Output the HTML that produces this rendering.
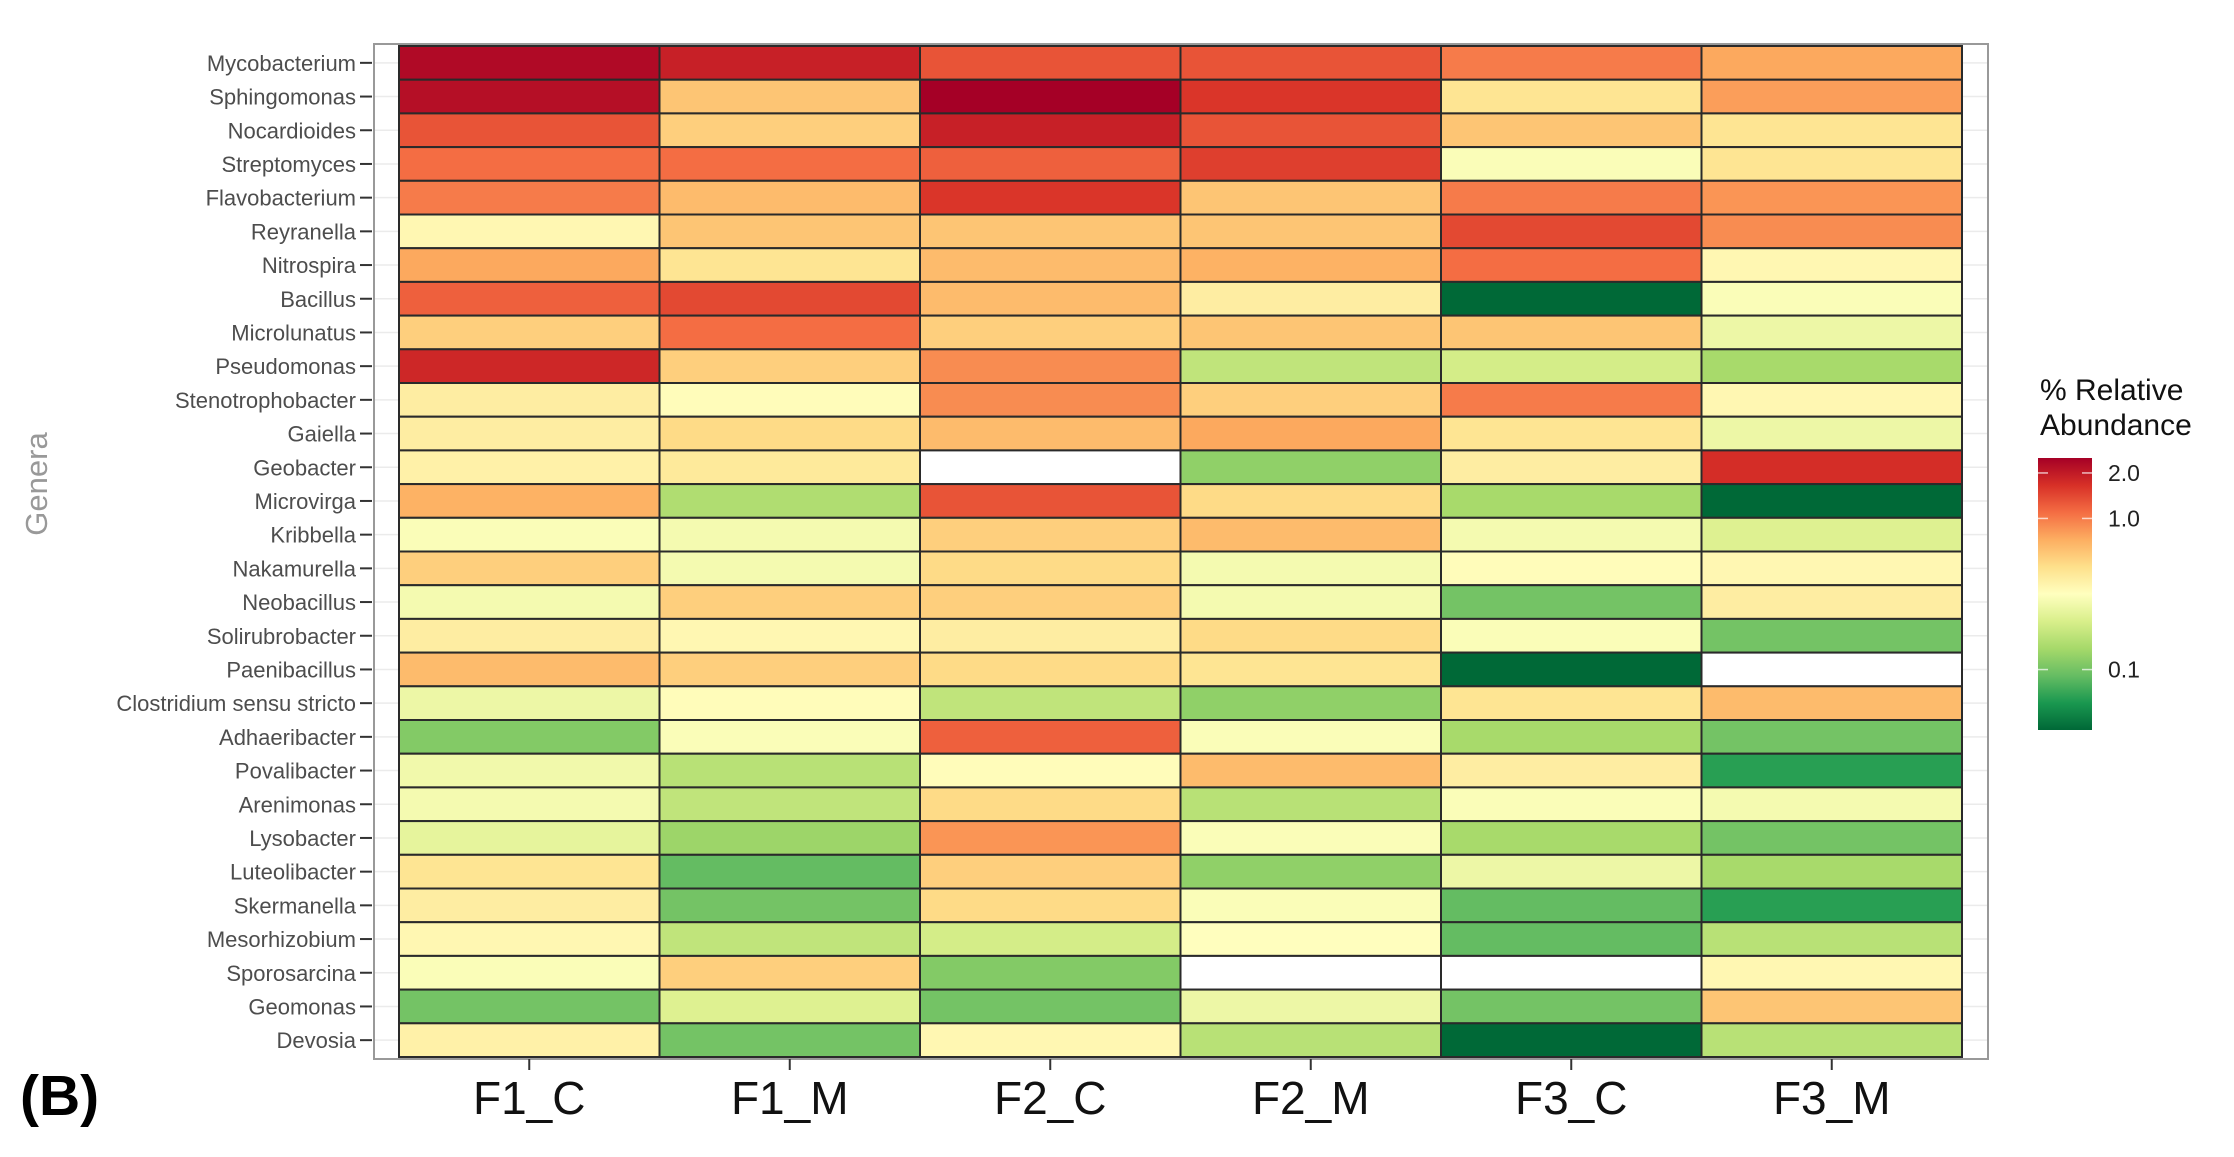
<!DOCTYPE html>
<html><head><meta charset="utf-8"><style>
html,body{margin:0;padding:0;background:#fff;}
svg{display:block;font-family:"Liberation Sans",sans-serif;}
</style></head><body>
<svg id="chart" width="2234" height="1157" viewBox="0 0 2234 1157" xmlns="http://www.w3.org/2000/svg">
<rect x="374" y="44" width="1614" height="1015" fill="#fff" stroke="#999" stroke-width="2"/>
<g id="grid"></g><g id="tiles"></g><g id="yaxis"></g><g id="xaxis"></g>
<text x="47" y="484" transform="rotate(-90 47 484)" text-anchor="middle" font-size="31" fill="#999">Genera</text>
<text x="20" y="1115" font-size="57" font-weight="bold" fill="#000">(B)</text>
<text x="2040" y="400" font-size="30" fill="#111">% Relative</text>
<text x="2040" y="435" font-size="30" fill="#111">Abundance</text>
<defs><linearGradient id="cb" x1="0" y1="1" x2="0" y2="0">
<stop offset="0" stop-color="#006837"/><stop offset="0.1" stop-color="#1a9850"/><stop offset="0.2" stop-color="#66bd63"/><stop offset="0.3" stop-color="#a6d96a"/><stop offset="0.4" stop-color="#d9ef8b"/><stop offset="0.5" stop-color="#ffffbf"/><stop offset="0.6" stop-color="#fee08b"/><stop offset="0.7" stop-color="#fdae61"/><stop offset="0.8" stop-color="#f46d43"/><stop offset="0.9" stop-color="#d73027"/><stop offset="1" stop-color="#a50026"/>
</linearGradient></defs>
<rect x="2038" y="458" width="54" height="272" fill="url(#cb)"/>
<g id="legend"></g>
</svg>
<script>
const genera = ["Mycobacterium","Sphingomonas","Nocardioides","Streptomyces","Flavobacterium","Reyranella","Nitrospira","Bacillus","Microlunatus","Pseudomonas","Stenotrophobacter","Gaiella","Geobacter","Microvirga","Kribbella","Nakamurella","Neobacillus","Solirubrobacter","Paenibacillus","Clostridium sensu stricto","Adhaeribacter","Povalibacter","Arenimonas","Lysobacter","Luteolibacter","Skermanella","Mesorhizobium","Sporosarcina","Geomonas","Devosia"];
const samples = ["F1_C","F1_M","F2_C","F2_M","F3_C","F3_M"];
const F1_C = [2.3,2.2,1.3,1.1,1.0,0.35,0.75,1.2,0.55,1.8,0.4,0.4,0.38,0.7,0.3,0.55,0.28,0.4,0.65,0.26,0.11,0.27,0.28,0.24,0.45,0.4,0.35,0.3,0.1,0.38];
const F1_M = [1.9,0.6,0.55,1.1,0.65,0.6,0.45,1.4,1.1,0.55,0.33,0.5,0.42,0.15,0.28,0.28,0.55,0.35,0.55,0.33,0.3,0.16,0.17,0.13,0.09,0.1,0.17,0.55,0.22,0.1];
const F2_C = [1.3,2.6,1.9,1.2,1.6,0.6,0.65,0.65,0.55,0.9,0.9,0.65,null,1.3,0.55,0.5,0.55,0.4,0.5,0.17,1.2,0.33,0.5,0.85,0.55,0.5,0.2,0.11,0.1,0.35];
const F2_M = [1.3,1.6,1.3,1.5,0.6,0.6,0.7,0.4,0.6,0.17,0.55,0.75,0.12,0.5,0.65,0.28,0.28,0.5,0.45,0.12,0.3,0.65,0.16,0.3,0.12,0.3,0.32,null,0.26,0.16];
const F3_C = [1.0,0.45,0.6,0.3,1.0,1.4,1.1,0.04,0.6,0.2,1.0,0.45,0.4,0.14,0.28,0.33,0.1,0.3,0.04,0.45,0.14,0.4,0.3,0.14,0.26,0.09,0.09,null,0.1,0.04];
const F3_M = [0.75,0.8,0.45,0.45,0.85,0.9,0.35,0.3,0.26,0.14,0.35,0.26,1.7,0.04,0.22,0.35,0.4,0.1,null,0.65,0.1,0.065,0.28,0.1,0.14,0.065,0.16,0.35,0.6,0.16];
const series = [F1_C,F1_M,F2_C,F2_M,F3_C,F3_M];
const legendTicks = [2.0,1.0,0.1];
const legendLabels = ["2.0","1.0","0.1"];

const NS="http://www.w3.org/2000/svg";
const X0=399,X1=1962,Y0=46,Y1=1057;
const colW=(X1-X0)/samples.length, rowH=(Y1-Y0)/genera.length;
const xPos=i=>X0+i*colW, yPos=j=>Y0+j*rowH;
const LMIN=-1.4,LMAX=0.4;
const stops=["#006837","#1a9850","#66bd63","#a6d96a","#d9ef8b","#ffffbf","#fee08b","#fdae61","#f46d43","#d73027","#a50026"];
function hex(c){return [1,3,5].map(k=>parseInt(c.substr(k,2),16));}
function color(v){
  let t=(Math.log10(v)-LMIN)/(LMAX-LMIN); t=Math.max(0,Math.min(1,t));
  const p=t*10,i=Math.min(9,Math.floor(p)),f=p-i;
  const a=hex(stops[i]),b=hex(stops[i+1]);
  return "rgb("+a.map((x,k)=>Math.round(x+(b[k]-x)*f)).join(",")+")";
}
function mk(tag,attrs,parent){const e=document.createElementNS(NS,tag);for(const k in attrs)e.setAttribute(k,attrs[k]);parent.appendChild(e);return e;}
const grid=document.getElementById("grid"),tiles=document.getElementById("tiles"),yax=document.getElementById("yaxis"),xax=document.getElementById("xaxis"),leg=document.getElementById("legend");
genera.forEach((g,j)=>{
  const cy=yPos(j)+rowH/2;
  const gl=mk("line",{x1:375,x2:1987,y1:cy,y2:cy,stroke:"#ebebeb","stroke-width":1.5},grid);
  
  
  const tk=mk("line",{x1:360,x2:372,y1:cy,y2:cy,stroke:"#333","stroke-width":2},yax);
  
  
  const t=mk("text",{x:356,y:cy+8,"text-anchor":"end","font-size":22,fill:"#4d4d4d"},yax);
  t.textContent=g;
  
  
});
samples.forEach((s,i)=>{
  series[i].forEach((v,j)=>{
    const r=mk("rect",{x:xPos(i),y:yPos(j),width:colW,height:rowH,fill:v==null?"#ffffff":color(v),stroke:"#2a2a2a","stroke-width":2},tiles);
    
    
  });
  const cx=xPos(i)+colW/2;
  const tk=mk("line",{x1:cx,x2:cx,y1:1059,y2:1070,stroke:"#333","stroke-width":2},xax);
  
  
  const t=mk("text",{x:cx,y:1114,"text-anchor":"middle","font-size":46,fill:"#111"},xax);
  t.textContent=s;
  
  
});
const CB0=730,CB1=458;
const cbY=v=>CB0-(Math.log10(v)-LMIN)/(LMAX-LMIN)*(CB0-CB1);
legendTicks.forEach((v,k)=>{
  const y=cbY(v);
  const a=mk("line",{x1:2038,x2:2048,y1:y,y2:y,stroke:"#fff","stroke-width":1.5,"stroke-opacity":0.7},leg);
  
  
  const b=mk("line",{x1:2082,x2:2092,y1:y,y2:y,stroke:"#fff","stroke-width":1.5,"stroke-opacity":0.7},leg);
  
  
  const t=mk("text",{x:2108,y:y+8,"font-size":23,fill:"#222"},leg);
  t.textContent=legendLabels[k];
  
  
});
</script>
</body></html>
